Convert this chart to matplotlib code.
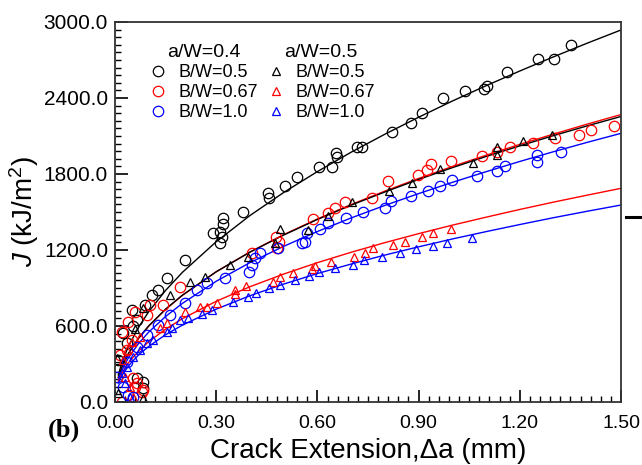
import matplotlib
matplotlib.use('Agg')
import matplotlib.pyplot as plt
from matplotlib.lines import Line2D
from matplotlib.ticker import MultipleLocator, FormatStrFormatter

plt.rcParams['font.family'] = ['Liberation Sans', 'DejaVu Sans']
plt.rcParams['mathtext.fontset'] = 'custom'
plt.rcParams['mathtext.rm'] = 'Liberation Sans'
plt.rcParams['mathtext.it'] = 'Liberation Sans:italic'

# fitted curves
fit_x = [0.01, 0.02, 0.04, 0.07, 0.1, 0.15, 0.2, 0.3, 0.4, 0.5, 0.6, 0.7,
         0.8, 0.9, 1.0, 1.1, 1.2, 1.3, 1.4, 1.5]
fit_c04_b05 = [214, 307, 441, 591, 713, 881, 1024, 1265, 1472, 1654, 1819, 1972,
               2114, 2248, 2376, 2497, 2613, 2725, 2833, 2937]
fit_c04_b067 = [193, 271, 381, 502, 599, 731, 842, 1028, 1184, 1321, 1445, 1559,
                1665, 1765, 1859, 1948, 2034, 2115, 2194, 2269]
fit_c04_b10 = [176, 248, 350, 462, 552, 675, 779, 953, 1100, 1229, 1346, 1453,
               1552, 1645, 1734, 1818, 1899, 1976, 2050, 2121]
fit_c05_b05 = [196, 274, 384, 505, 601, 733, 844, 1028, 1183, 1318, 1441, 1554,
               1658, 1757, 1850, 1938, 2022, 2103, 2180, 2254]
fit_c05_b067 = [163, 225, 310, 403, 476, 575, 658, 795, 910, 1010, 1100, 1182,
                1258, 1329, 1396, 1459, 1520, 1578, 1633, 1687]
fit_c05_b10 = [150, 207, 286, 372, 439, 531, 607, 733, 839, 931, 1014, 1089,
               1160, 1225, 1287, 1345, 1401, 1455, 1506, 1555]

# a/W=0.4, B/W=0.5 (black circles)
x1 = [0.010, 0.025, 0.035, 0.049, 0.054, 0.064, 0.089, 0.109, 0.128, 0.153, 0.208,
      0.291, 0.311, 0.311, 0.316, 0.321, 0.321, 0.378, 0.455, 0.458, 0.504, 0.539,
      0.606, 0.642, 0.655, 0.657, 0.717, 0.731, 0.820, 0.877, 0.911, 0.973, 1.038,
      1.094, 1.102, 1.161, 1.255, 1.300, 1.352, 0.064, 0.084, 0.084]
j1 = [332, 542, 463, 726, 600, 647, 766, 845, 884, 977, 1121,
      1337, 1345, 1253, 1305, 1405, 1450, 1503, 1648, 1608, 1705, 1779,
      1858, 1858, 1963, 1932, 2016, 2016, 2134, 2205, 2279, 2403, 2458,
      2469, 2495, 2603, 2705, 2711, 2818, 187, 160, 108]

# a/W=0.4, B/W=0.67 (red circles)
x2 = [0.020, 0.015, 0.035, 0.038, 0.049, 0.059, 0.094, 0.104, 0.143, 0.193, 0.405,
      0.479, 0.487, 0.477, 0.588, 0.632, 0.652, 0.682, 0.761, 0.810, 0.899, 0.924,
      0.936, 0.996, 1.087, 1.132, 1.171, 1.240, 1.304, 1.374, 1.411, 1.479,
      0.054, 0.059, 0.064, 0.079, 0.084, 0.020]
j2 = [555, 371, 411, 634, 490, 713, 687, 766, 766, 910, 1174,
      1213, 1266, 1305, 1442, 1489, 1529, 1581, 1608, 1747, 1792, 1832,
      1876, 1905, 1942, 1976, 2016, 2042, 2082, 2108, 2147, 2179,
      187, 121, 147, 81, 95, 3]

# a/W=0.4, B/W=1.0 (blue circles)
x3 = [0.005, 0.035, 0.064, 0.094, 0.128, 0.163, 0.208, 0.242, 0.272, 0.326, 0.398,
      0.405, 0.415, 0.430, 0.484, 0.553, 0.563, 0.568, 0.608, 0.632, 0.685, 0.736,
      0.800, 0.817, 0.878, 0.927, 0.963, 0.998, 1.072, 1.132, 1.156, 1.252, 1.252,
      1.321, 0.025, 0.039, 0.054]
j3 = [200, 318, 437, 529, 608, 687, 779, 884, 937, 977, 1029,
      1082, 1134, 1174, 1213, 1253, 1266, 1332, 1363, 1411, 1450, 1503,
      1534, 1587, 1626, 1668, 1708, 1753, 1787, 1824, 1866, 1897, 1950,
      1976, 121, 55, 42]

# a/W=0.5, B/W=0.5 (black triangles)
x4 = [0.005, 0.059, 0.084, 0.163, 0.222, 0.267, 0.341, 0.395, 0.474, 0.489, 0.573,
      0.632, 0.702, 0.813, 0.880, 0.963, 1.062, 1.132, 1.132, 1.208, 1.295,
      0.010, 0.084]
j4 = [345, 574, 740, 845, 950, 990, 1082, 1142, 1258, 1363, 1358,
      1468, 1581, 1668, 1732, 1837, 1884, 1950, 2011, 2063, 2108,
      69, 29]

# a/W=0.5, B/W=0.67 (red triangles)
x5 = [0.025, 0.035, 0.049, 0.074, 0.133, 0.153, 0.208, 0.252, 0.272, 0.301, 0.356,
      0.356, 0.388, 0.469, 0.489, 0.529, 0.583, 0.593, 0.640, 0.709, 0.741, 0.766,
      0.823, 0.860, 0.909, 0.942, 0.996, 0.030, 0.044, 0.054]
j5 = [332, 411, 476, 516, 582, 621, 713, 752, 752, 779, 853,
      884, 916, 950, 990, 1016, 1048, 1074, 1108, 1147, 1174, 1213,
      1240, 1266, 1300, 1332, 1363, 200, 121, 42]

# a/W=0.5, B/W=1.0 (blue triangles)
x6 = [0.020, 0.035, 0.054, 0.074, 0.094, 0.114, 0.153, 0.168, 0.193, 0.217, 0.257,
      0.287, 0.351, 0.395, 0.418, 0.458, 0.489, 0.534, 0.576, 0.606, 0.652, 0.707,
      0.739, 0.791, 0.845, 0.892, 0.944, 0.983, 1.059, 0.030, 0.044]
j6 = [227, 279, 358, 411, 463, 490, 555, 582, 647, 661, 695,
      726, 792, 831, 863, 898, 924, 963, 995, 1029, 1055, 1082,
      1121, 1147, 1174, 1205, 1232, 1258, 1292, 147, 42]

fig = plt.figure(figsize=(6.42, 4.65), dpi=100)
ax = fig.add_axes([0.1791, 0.1355, 0.7882, 0.8172])

ms_c = 7.5
ms_t = 6.3
mew = 0.9
ax.plot(fit_x, fit_c04_b05, color='black', lw=1.0)
ax.plot(fit_x, fit_c04_b067, color='red', lw=1.0)
ax.plot(fit_x, fit_c04_b10, color='blue', lw=1.0)
ax.plot(fit_x, fit_c05_b05, color='black', lw=1.0)
ax.plot(fit_x, fit_c05_b067, color='red', lw=1.0)
ax.plot(fit_x, fit_c05_b10, color='blue', lw=1.0)

c1, = ax.plot(x1, j1, 'o', mfc='none', mec='black', ms=ms_c, mew=mew, label='B/W=0.5')
c2, = ax.plot(x2, j2, 'o', mfc='none', mec='red', ms=ms_c, mew=mew, label='B/W=0.67')
c3, = ax.plot(x3, j3, 'o', mfc='none', mec='blue', ms=ms_c, mew=mew, label='B/W=1.0')
t1, = ax.plot(x4, j4, '^', mfc='none', mec='black', ms=ms_t, mew=mew, label='B/W=0.5')
t2, = ax.plot(x5, j5, '^', mfc='none', mec='red', ms=ms_t, mew=mew, label='B/W=0.67')
t3, = ax.plot(x6, j6, '^', mfc='none', mec='blue', ms=ms_t, mew=mew, label='B/W=1.0')

ax.set_xlim(0, 1.5)
ax.set_ylim(0, 3000)
ax.xaxis.set_major_locator(MultipleLocator(0.3))
ax.xaxis.set_minor_locator(MultipleLocator(0.03))
ax.yaxis.set_major_locator(MultipleLocator(600))
ax.yaxis.set_minor_locator(MultipleLocator(60))
ax.xaxis.set_major_formatter(FormatStrFormatter('%.2f'))
ax.yaxis.set_major_formatter(FormatStrFormatter('%.1f'))
ax.tick_params(which='both', direction='in', top=False, right=False)
ax.tick_params(which='major', length=9, width=1.2)
ax.tick_params(which='minor', length=4.5, width=1.0)
ax.tick_params(axis='x', pad=9.5, labelsize=14)
ax.tick_params(axis='y', pad=5, labelsize=15)
for s in ax.spines.values():
    s.set_linewidth(1.3)
    s.set_color('#333333')

ax.set_xlabel('Crack Extension,\u0394a (mm)', fontsize=20, labelpad=4)
ax.set_ylabel(r'$J$ (kJ/m$^2$)', fontsize=20, labelpad=2)

leg_kw = dict(loc='upper left', frameon=False, fontsize=13, title_fontsize=14,
              handlelength=1.0, handletextpad=0.6, labelspacing=0.18,
              borderpad=0, borderaxespad=0)
leg1 = ax.legend(handles=[c1, c2, c3], title='a/W=0.4',
                 bbox_to_anchor=(0.068, 0.943), **leg_kw)
ax.add_artist(leg1)
ax.legend(handles=[t1, t2, t3], title='a/W=0.5',
          bbox_to_anchor=(0.30, 0.943), **leg_kw)

fig.text(0.10, 0.075, '(b)', family='Liberation Serif', weight='bold',
         fontsize=19, ha='center', va='center')
fig.add_artist(Line2D([0.975, 1.0], [0.534, 0.534], transform=fig.transFigure,
                      color='black', lw=2.2))

fig.savefig('out.png', dpi=100)
